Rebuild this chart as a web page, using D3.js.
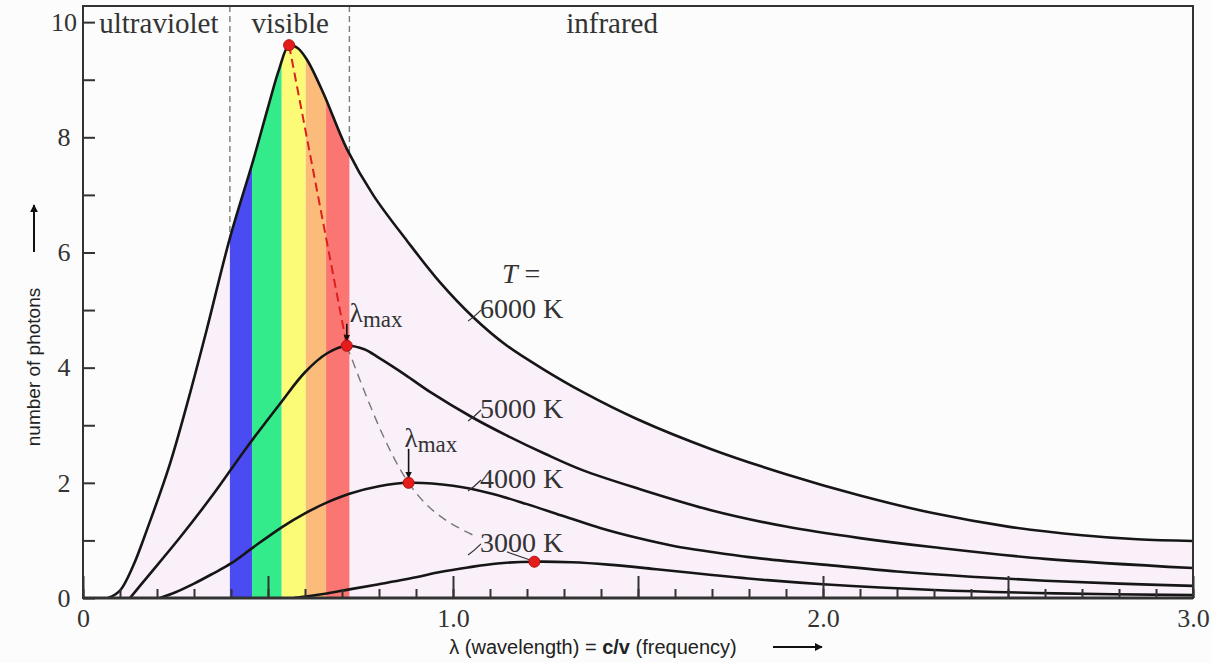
<!DOCTYPE html>
<html>
<head>
<meta charset="utf-8">
<script src="https://cdn.jsdelivr.net/npm/d3@7"></script>
<style>
  body { margin: 0; background: #fbfcfb; }
  svg { display: block; }
</style>
</head>
<body>
<script>
  // wavelength (micrometres) vs number of photons
  var curve6000 = [[0.068,0],[0.10,0.13],[0.135,0.55],[0.172,1.17],[0.235,2.33],[0.289,3.55],[0.334,4.65],[0.397,6.25],
    [0.46,7.6],[0.50,8.52],[0.53,9.18],[0.557,9.6],[0.58,9.55],[0.605,9.35],[0.65,8.76],[0.713,7.8],[0.784,7.0],
    [0.876,6.2],[0.965,5.48],[1.054,4.88],[1.146,4.38],[1.25,3.95],[1.35,3.58],[1.5,3.1],[1.7,2.58],[1.9,2.15],
    [2.1,1.78],[2.3,1.47],[2.5,1.24],[2.7,1.09],[2.85,1.02],[3.0,0.99]];
  var curve5000 = [[0.127,0],[0.172,0.35],[0.262,1.05],[0.352,1.8],[0.442,2.61],[0.532,3.37],[0.6,3.92],[0.66,4.25],
    [0.713,4.38],[0.76,4.32],[0.8,4.17],[0.87,3.88],[0.94,3.57],[1.054,3.13],[1.146,2.82],[1.25,2.5],[1.35,2.22],
    [1.5,1.9],[1.7,1.52],[1.9,1.24],[2.1,1.04],[2.3,0.88],[2.6,0.68],[3.0,0.52]];
  var curve4000 = [[0.208,0],[0.25,0.1],[0.3,0.25],[0.35,0.42],[0.4,0.6],[0.46,0.88],[0.54,1.24],[0.6,1.47],
    [0.66,1.66],[0.72,1.81],[0.8,1.94],[0.88,2.0],[1.0,1.95],[1.1,1.82],[1.2,1.63],[1.3,1.42],[1.4,1.21],[1.5,1.04],
    [1.6,0.9],[1.7,0.8],[1.8,0.71],[1.9,0.64],[2.0,0.58],[2.2,0.46],[2.4,0.37],[2.6,0.3],[2.8,0.25],[3.0,0.21]];
  var curve3000 = [[0.57,0],[0.65,0.07],[0.72,0.15],[0.8,0.24],[0.9,0.36],[0.965,0.45],[1.04,0.53],[1.12,0.6],
    [1.22,0.63],[1.32,0.62],[1.42,0.58],[1.55,0.5],[1.7,0.4],[1.85,0.31],[2.0,0.24],[2.3,0.14],[2.63,0.08],[3.0,0.05]];

  var temps = ['6000 K', '5000 K', '4000 K', '3000 K'];
  var peaks = [[0.557,9.6],[0.713,4.38],[0.88,2.0],[1.22,0.63]];

  var bandEdges = [0.397, 0.457, 0.537, 0.602, 0.657, 0.72];
  var bandColors = ['#4b4bf2', '#33eb8a', '#fbfb78', '#fbbb7a', '#fb7672'];

  var regionNames = ['ultraviolet', 'visible', 'infrared'];
  var regionCentres = [0.205, 0.56, 1.43];

  var xMinorTicks = 30;
  var xMajor = [0, 0.5, 1.0, 1.5, 2.0, 2.5, 3.0];
  var xLabels = [0, 1, 2, 3];
  var yLabels = [0, 2, 4, 6, 8, 10];

  var serif = '"Liberation Serif","Times New Roman",serif',
      sans = '"Liberation Sans",Arial,sans-serif',
      ink = '#333';

  var svg = d3.select('body').append('svg')
    .attr('width', 1212)
    .attr('height', 663);

  var x = d3.scaleLinear().domain([0, 3]).range([83, 1193]),
      y = d3.scaleLinear().domain([0, 10.28]).range([598, 6]),
      yTop = y.range()[1];

  var smooth = d3.curveCatmullRom.alpha(0.5);

  var defs = svg.append('defs');
  defs.append('marker')
    .attr('id', 'arrow')
    .attr('viewBox', '0 0 10 10')
    .attr('refX', 9).attr('refY', 5)
    .attr('markerWidth', 4).attr('markerHeight', 4)
    .attr('markerUnits', 'strokeWidth')
    .attr('orient', 'auto')
    .append('path')
    .attr('d', 'M0,0 L10,5 L0,10 Z')
    .attr('fill', '#111');

  defs.append('clipPath')
    .attr('id', 'frame')
    .append('rect')
    .attr('x', x(0)).attr('y', yTop)
    .attr('width', x(3) - x(0)).attr('height', y(0) - yTop);

  var area = d3.area()
    .x(function (d) { return x(d[0]); })
    .y0(y(0))
    .y1(function (d) { return y(d[1]); })
    .curve(smooth);

  var line = d3.line()
    .x(function (d) { return x(d[0]); })
    .y(function (d) { return y(d[1]); })
    .curve(smooth);

  defs.append('clipPath')
    .attr('id', 'under6000')
    .append('path')
    .attr('d', area(curve6000));

  var plot = svg.append('g').attr('clip-path', 'url(#frame)');

  // boundaries of the visible range, the pink fill hides their lower part
  plot.selectAll('line.bound')
    .data([bandEdges[0], bandEdges[bandEdges.length - 1]])
    .enter()
    .append('line')
    .attr('class', 'bound')
    .attr('x1', function (d) { return x(d); })
    .attr('x2', function (d) { return x(d); })
    .attr('y1', yTop)
    .attr('y2', y(0))
    .attr('stroke', '#7a7a7a')
    .attr('stroke-width', 1.4)
    .attr('stroke-dasharray', '6,4');

  plot.append('path')
    .attr('d', area(curve6000))
    .attr('fill', '#faf0fa');

  plot.append('g')
    .attr('clip-path', 'url(#under6000)')
    .selectAll('rect')
    .data(bandColors)
    .enter()
    .append('rect')
    .attr('x', function (d, i) { return x(bandEdges[i]); })
    .attr('width', function (d, i) { return x(bandEdges[i + 1]) - x(bandEdges[i]); })
    .attr('y', yTop)
    .attr('height', y(0) - yTop)
    .attr('fill', function (d) { return d; });

  // ticks
  var gx = svg.append('g').attr('transform', 'translate(0,' + y(0) + ')');
  gx.append('g').call(d3.axisBottom(x).ticks(xMinorTicks).tickSize(-9).tickFormat(''));
  gx.append('g').call(d3.axisBottom(x).tickValues(xMajor).tickSize(-22).tickFormat(''));
  gx.append('g').call(d3.axisBottom(x).tickValues(xLabels).tickSize(0).tickPadding(11)
    .tickFormat(function (d) { return d === 0 ? '0' : d3.format('.1f')(d); }));

  var gy = svg.append('g').attr('transform', 'translate(' + x(0) + ',0)');
  gy.append('g').call(d3.axisLeft(y).ticks(10).tickSize(-12).tickFormat(''));
  gy.append('g').call(d3.axisLeft(y).tickValues(yLabels).tickSize(0).tickFormat(d3.format('d')));
  gy.selectAll('text').attr('text-anchor', 'middle').attr('x', -19);

  svg.selectAll('.domain').remove();
  svg.selectAll('.tick line').attr('stroke', ink).attr('stroke-width', 2);
  svg.selectAll('.tick text')
    .attr('fill', ink)
    .style('font-family', serif)
    .style('font-size', '26px');

  svg.append('rect')
    .attr('x', x(0)).attr('y', yTop)
    .attr('width', x(3) - x(0)).attr('height', y(0) - yTop)
    .attr('fill', 'none')
    .attr('stroke', ink)
    .attr('stroke-width', 2);
  svg.append('line')
    .attr('x1', x(0)).attr('x2', x(3))
    .attr('y1', y(0)).attr('y2', y(0))
    .attr('stroke', ink).attr('stroke-width', 3);

  // lambda max locus
  plot.append('path')
    .attr('d', d3.line().x(function (d) { return x(d[0]); }).y(function (d) { return y(d[1]); })(peaks.slice(0, 2)))
    .attr('fill', 'none')
    .attr('stroke', '#dc2020')
    .attr('stroke-width', 2)
    .attr('stroke-dasharray', '9,5');
  plot.append('path')
    .attr('d', d3.line().x(function (d) { return x(d[0]); }).y(function (d) { return y(d[1]); })
      .curve(d3.curveNatural)([peaks[1], peaks[2], [1.065, 1.06]]))
    .attr('fill', 'none')
    .attr('stroke', '#777')
    .attr('stroke-width', 1.4)
    .attr('stroke-dasharray', '9,6');

  // the four curves
  var curves = [curve6000, curve5000, curve4000, curve3000];
  plot.append('g')
    .selectAll('path')
    .data(curves)
    .enter()
    .append('path')
    .attr('d', line)
    .attr('fill', 'none')
    .attr('stroke', '#161616')
    .attr('stroke-width', 2.6);

  // curve labels
  var labelX = 1.073, labelY = [4.86, 3.125, 1.91, 0.80];
  var labels = svg.append('g')
    .style('font-family', serif)
    .style('font-size', '28px')
    .attr('fill', ink);
  labels.selectAll('text')
    .data(temps)
    .enter()
    .append('text')
    .attr('x', x(labelX))
    .attr('y', function (d, i) { return y(labelY[i]); })
    .text(function (d) { return d; });
  labels.selectAll('path')
    .data(temps)
    .enter()
    .append('path')
    .attr('d', function (d, i) {
      var lx = x(labelX), ly = y(labelY[i]);
      return 'M' + (lx - 12) + ',' + (ly + 3) + ' Q' + (lx - 6) + ',' + (ly - 1) + ' ' + (lx + 1) + ',' + (ly - 8);
    })
    .attr('fill', 'none')
    .attr('stroke', ink)
    .attr('stroke-width', 1.2);
  // 3000 K label points to its peak
  svg.append('line')
    .attr('x1', x(labelX) + 27).attr('y1', y(labelY[3]))
    .attr('x2', x(peaks[3][0]) - 5).attr('y2', y(peaks[3][1]) - 2)
    .attr('stroke', ink).attr('stroke-width', 1.2);

  var tEq = labels.append('text')
    .attr('x', x(labelX) + 22)
    .attr('y', y(5.47));
  tEq.append('tspan').style('font-style', 'italic').text('T');
  tEq.append('tspan').text(' =');

  // lambda max marks
  var lm = [[3, -24], [-4, -36]];
  [1, 2].forEach(function (k, j) {
    var px = x(peaks[k][0]), py = y(peaks[k][1]);
    svg.append('line')
      .attr('x1', px).attr('x2', px)
      .attr('y1', py + lm[j][1] + 2).attr('y2', py - 5)
      .attr('stroke', '#111')
      .attr('stroke-width', 1.6)
      .attr('marker-end', 'url(#arrow)');
    var t = svg.append('text')
      .attr('x', px + lm[j][0])
      .attr('y', py + lm[j][1])
      .attr('fill', ink)
      .style('font-family', serif);
    t.append('tspan').style('font-size', '27px').text('λ');
    t.append('tspan').style('font-size', '23px').attr('dy', 5).text('max');
  });

  svg.append('g')
    .selectAll('circle')
    .data(peaks)
    .enter()
    .append('circle')
    .attr('cx', function (d) { return x(d[0]); })
    .attr('cy', function (d) { return y(d[1]); })
    .attr('r', 5.5)
    .attr('fill', '#e51c1c')
    .attr('stroke', '#b01010')
    .attr('stroke-width', 1);

  // region names
  svg.append('g')
    .selectAll('text')
    .data(regionNames)
    .enter()
    .append('text')
    .attr('x', function (d, i) { return x(regionCentres[i]); })
    .attr('y', y(9.81))
    .attr('text-anchor', 'middle')
    .attr('fill', ink)
    .style('font-family', serif)
    .style('font-size', '29px')
    .text(function (d) { return d; });

  // axis titles
  svg.append('text')
    .attr('transform', 'translate(40,367) rotate(-90)')
    .attr('text-anchor', 'middle')
    .attr('fill', '#222')
    .style('font-family', sans)
    .style('font-size', '19px')
    .text('number of photons');
  svg.append('line')
    .attr('x1', 34).attr('x2', 34)
    .attr('y1', 252).attr('y2', 205)
    .attr('stroke', '#111').attr('stroke-width', 2)
    .attr('marker-end', 'url(#arrow)');

  var xt = svg.append('text')
    .attr('x', 593)
    .attr('y', 654)
    .attr('text-anchor', 'middle')
    .attr('fill', '#222')
    .style('font-family', sans)
    .style('font-size', '20px');
  xt.append('tspan').text('λ (wavelength) = ');
  xt.append('tspan').style('font-weight', 'bold').text('c/v');
  xt.append('tspan').text(' (frequency)');
  svg.append('line')
    .attr('x1', 773).attr('x2', 822)
    .attr('y1', 647).attr('y2', 647)
    .attr('stroke', '#111').attr('stroke-width', 2)
    .attr('marker-end', 'url(#arrow)');
</script>
</body>
</html>
